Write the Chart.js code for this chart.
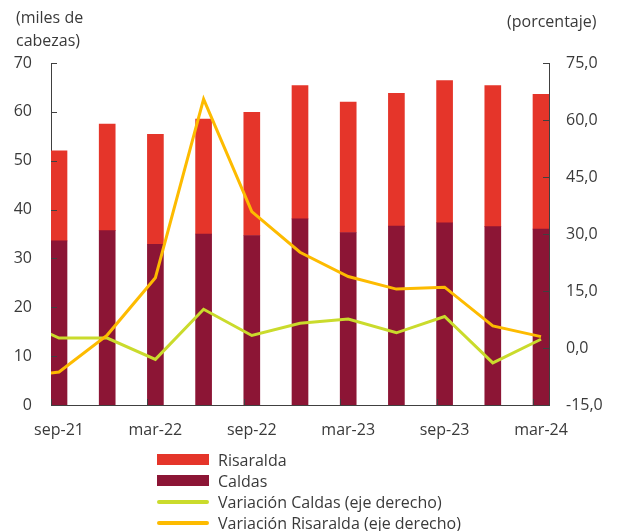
<!DOCTYPE html>
<html>
<head>
<meta charset="utf-8">
<script src="https://cdn.jsdelivr.net/npm/chart.js@4.4.1/dist/chart.umd.min.js"></script>
<style>
    html, body { margin: 0; padding: 0; background: #fff; }
    #wrap { position: relative; width: 619px; height: 531px; font-family: 'Open Sans', sans-serif; color: #3a3a3a; }
    #chart { position: absolute; left: 0; top: 0; }
    .note { position: absolute; font-size: 16px; line-height: 23px; }
    #legend { position: absolute; left: 157px; top: 449px; font-size: 16px; }
    #legend .row { height: 21px; display: flex; align-items: center; }
    #legend .sw { width: 52px; margin-right: 9px; }
</style>
</head>
<body>
<div id="wrap">
    <canvas id="chart" width="619" height="531"></canvas>
    <div class="note" style="left:16px; top:6px;">(miles de<br>cabezas)</div>
    <div class="note" style="left:507px; top:10px;">(porcentaje)</div>
    <div id="legend"></div>
</div>
<script>
// trimestres; jun-21 solo existe para las líneas (recortado por el eje)
const categories = ['jun-21', 'sep-21', 'dic-21', 'mar-22', 'jun-22', 'sep-22', 'dic-22',
    'mar-23', 'jun-23', 'sep-23', 'dic-23', 'mar-24'];
const caldas = [null, 33.6, 35.7, 32.9, 35.0, 34.7, 38.1, 35.3, 36.6, 37.3, 36.5, 36.0];
const risaralda = [null, 18.4, 21.8, 22.5, 23.5, 25.2, 27.3, 26.7, 27.2, 29.1, 28.9, 27.6];
const varCaldas = [8.5, 2.6, 2.6, -3.0, 10.2, 3.3, 6.5, 7.6, 4.0, 8.3, -3.9, 2.3];
const varRisaralda = [-7.8, -6.3, 3.4, 18.5, 65.5, 35.9, 25.2, 18.8, 15.5, 16.0, 5.8, 3.0];
const labeledTicks = [1, 3, 5, 7, 9, 11];

const RED = '#E5352A';
const MAROON = '#8C1535';
const GREEN = '#CADB2C';
const GOLD = '#FDBB00';
const AXIS = '#404040';
const TEXT = '#3a3a3a';
const BAR_W = 16;

const toPoints = (arr) => arr.map((v, i) => ({ x: i, y: v }));

// ticks hacia adentro, como en el original
const innerTicks = {
    id: 'innerTicks',
    afterDraw(chart) {
        const { ctx, chartArea, scales } = chart;
        const len = 6;
        ctx.save();
        ctx.strokeStyle = AXIS;
        ctx.lineWidth = 1;
        ctx.beginPath();
        labeledTicks.forEach((v) => {
            const x = Math.round(scales.x.getPixelForValue(v) - BAR_W / 2) + 0.5;
            ctx.moveTo(x, chartArea.bottom);
            ctx.lineTo(x, chartArea.bottom - len);
        });
        scales.y.ticks.forEach((t) => {
            const y = Math.round(scales.y.getPixelForValue(t.value)) + 0.5;
            ctx.moveTo(chartArea.left, y);
            ctx.lineTo(chartArea.left + len, y);
        });
        scales.y2.ticks.forEach((t) => {
            const y = Math.round(scales.y2.getPixelForValue(t.value)) + 0.5;
            ctx.moveTo(chartArea.right, y);
            ctx.lineTo(chartArea.right - len, y);
        });
        ctx.stroke();
        ctx.restore();
    },
};

const tickFont = { family: "'Open Sans', sans-serif", size: 16 };

const chart = new Chart(document.getElementById('chart'), {
    data: {
        datasets: [{
            type: 'line',
            label: 'Variación Risaralda (eje derecho)',
            data: toPoints(varRisaralda),
            yAxisID: 'y2',
            borderColor: GOLD,
            borderWidth: 3,
            pointRadius: 0,
            tension: 0,
            order: 0,
        }, {
            type: 'line',
            label: 'Variación Caldas (eje derecho)',
            data: toPoints(varCaldas),
            yAxisID: 'y2',
            borderColor: GREEN,
            borderWidth: 3,
            pointRadius: 0,
            tension: 0,
            order: 1,
        }, {
            type: 'bar',
            label: 'Caldas',
            data: toPoints(caldas),
            yAxisID: 'y',
            backgroundColor: MAROON,
            barThickness: BAR_W,
            order: 2,
        }, {
            type: 'bar',
            label: 'Risaralda',
            data: toPoints(risaralda),
            yAxisID: 'y',
            backgroundColor: RED,
            barThickness: BAR_W,
            order: 2,
        }],
    },
    options: {
        responsive: false,
        animation: false,
        layout: { padding: { top: 63 } },
        plugins: {
            legend: { display: false },
            tooltip: { enabled: false },
        },
        scales: {
            x: {
                type: 'linear',
                stacked: true,
                offset: false,
                min: 1 - 0.166,
                max: 11.166,
                afterBuildTicks(scale) {
                    scale.ticks = labeledTicks.map((v) => ({ value: v }));
                },
                afterFit(scale) {
                    scale.height = 126;
                },
                ticks: {
                    color: TEXT,
                    font: tickFont,
                    padding: 16,
                    maxRotation: 0,
                    autoSkip: false,
                    callback: (value) => categories[value],
                },
                grid: { display: false, drawTicks: false },
                border: { color: AXIS, width: 1 },
            },
            y: {
                position: 'left',
                stacked: true,
                min: 0,
                max: 70,
                afterFit(scale) {
                    scale.width = 51;
                },
                ticks: {
                    stepSize: 10,
                    color: TEXT,
                    font: tickFont,
                    padding: 19,
                },
                grid: { display: false, drawTicks: false },
                border: { color: AXIS, width: 1 },
            },
            y2: {
                position: 'right',
                min: -15,
                max: 75,
                afterFit(scale) {
                    scale.width = 70;
                },
                ticks: {
                    stepSize: 15,
                    color: TEXT,
                    font: tickFont,
                    padding: 17,
                    callback: (value) => value.toFixed(1).replace('.', ','),
                },
                grid: { display: false, drawTicks: false },
                border: { color: AXIS, width: 1 },
            },
        },
    },
    plugins: [innerTicks],
});

// leyenda vertical, en el orden del original
const legendItems = [
    { label: 'Risaralda', color: RED, box: true },
    { label: 'Caldas', color: MAROON, box: true },
    { label: 'Variación Caldas (eje derecho)', color: GREEN, box: false },
    { label: 'Variación Risaralda (eje derecho)', color: GOLD, box: false },
];
const legend = document.getElementById('legend');
legendItems.forEach((item) => {
    const row = document.createElement('div');
    row.className = 'row';
    const sw = document.createElement('span');
    sw.className = 'sw';
    sw.style.background = item.color;
    sw.style.height = item.box ? '11px' : '4px';
    sw.style.borderRadius = item.box ? '0' : '2px';
    row.appendChild(sw);
    row.appendChild(document.createTextNode(item.label));
    legend.appendChild(row);
});
</script>
</body>
</html>
